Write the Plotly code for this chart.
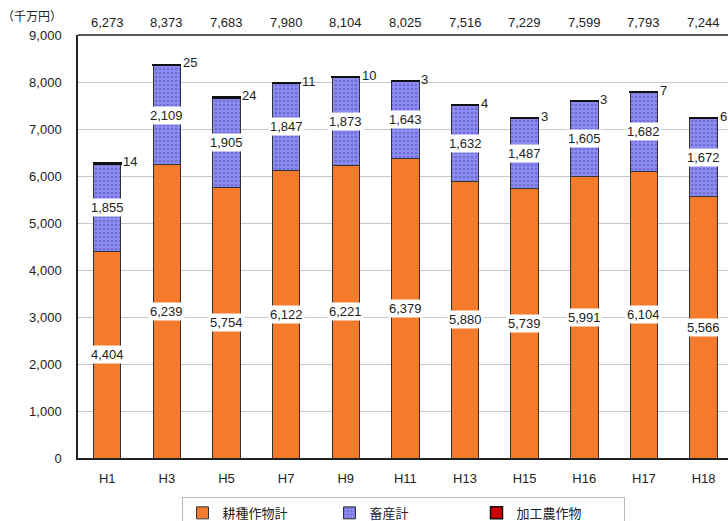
import plotly.graph_objects as go

categories = ["H1", "H3", "H5", "H7", "H9", "H11", "H13", "H15", "H16", "H17", "H18"]
crops = [4404, 6239, 5754, 6122, 6221, 6379, 5880, 5739, 5991, 6104, 5566]
livestock = [1855, 2109, 1905, 1847, 1873, 1643, 1632, 1487, 1605, 1682, 1672]
processed = [14, 25, 24, 11, 10, 3, 4, 3, 3, 7, 6]
totals = [6273, 8373, 7683, 7980, 8104, 8025, 7516, 7229, 7599, 7793, 7244]
y_ticks = [0, 1000, 2000, 3000, 4000, 5000, 6000, 7000, 8000, 9000]

FONT = "Liberation Sans, Arial, sans-serif"
JP = "Noto Sans CJK JP, sans-serif"

fig = go.Figure()
fig.add_trace(go.Bar(
    x=categories, y=crops, name="耕種作物計",
    marker=dict(color="#F47A2C", line=dict(color="#333333", width=1)),
    width=0.46,
))
fig.add_trace(go.Bar(
    x=categories, y=livestock, name="畜産計",
    marker=dict(color="#8282EE", line=dict(color="#333333", width=1),
                pattern=dict(shape=".", fgcolor="#4B4BB0", bgcolor="#8C8CF2", size=4, solidity=0.35)),
    width=0.46,
))
fig.add_trace(go.Bar(
    x=categories, y=processed, name="加工農作物",
    marker=dict(color="#CC0000", line=dict(color="#111111", width=1.5)),
    width=0.46,
))

ann = []
for i, c in enumerate(categories):
    ann.append(dict(x=c, y=crops[i] / 2, text=f"{crops[i]:,}", showarrow=False,
                    bgcolor="white", font=dict(family=FONT, size=13, color="#222"),
                    borderpad=1))
    ann.append(dict(x=c, y=crops[i] + livestock[i] / 2, text=f"{livestock[i]:,}", showarrow=False,
                    bgcolor="white", font=dict(family=FONT, size=13, color="#222"),
                    borderpad=1))
    ann.append(dict(x=c, y=totals[i], text=str(processed[i]), showarrow=False,
                    xanchor="left", yanchor="bottom", xshift=14, yshift=-8,
                    font=dict(family=FONT, size=13, color="#222")))
    ann.append(dict(x=c, y=1, yref="paper", text=f"{totals[i]:,}", showarrow=False,
                    yanchor="bottom", yshift=3,
                    font=dict(family=FONT, size=13, color="#222")))
ann.append(dict(x=0, y=1, xref="paper", yref="paper", text="（千万円）", showarrow=False,
                xanchor="right", yanchor="bottom", xshift=-14, yshift=9,
                font=dict(family=JP, size=12, color="#222")))

fig.update_layout(
    barmode="stack",
    width=728, height=521,
    margin=dict(l=78, r=0, t=35, b=63, autoexpand=False),
    plot_bgcolor="white", paper_bgcolor="white",
    font=dict(family=FONT, size=13, color="#222"),
    xaxis=dict(range=[-0.49, 10.41], showline=True, linecolor="#222", linewidth=1.5,
               ticks="", tickfont=dict(family=FONT, size=13), mirror=False,
               ticklabelstandoff=8, automargin=False),
    yaxis=dict(range=[0, 9000], tickvals=y_ticks, tickformat=",", showline=True,
               linecolor="#222", linewidth=1.5, gridcolor="#C8C8C8", ticks="",
               tickfont=dict(family=FONT, size=13), ticklabelstandoff=12, automargin=False),
    legend=dict(orientation="h", x=0.5, xanchor="center", y=-0.092, yanchor="top",
                bordercolor="#BBBBBB", borderwidth=1, bgcolor="white",
                font=dict(family=JP, size=13), itemwidth=30,
                entrywidth=102, traceorder="normal"),
    annotations=ann,
    shapes=[dict(type="line", xref="paper", yref="paper", x0=0, x1=1, y0=1, y1=1,
                 line=dict(color="#222", width=1.5))],
    bargap=0.5,
)

fig.write_html("out.html")
